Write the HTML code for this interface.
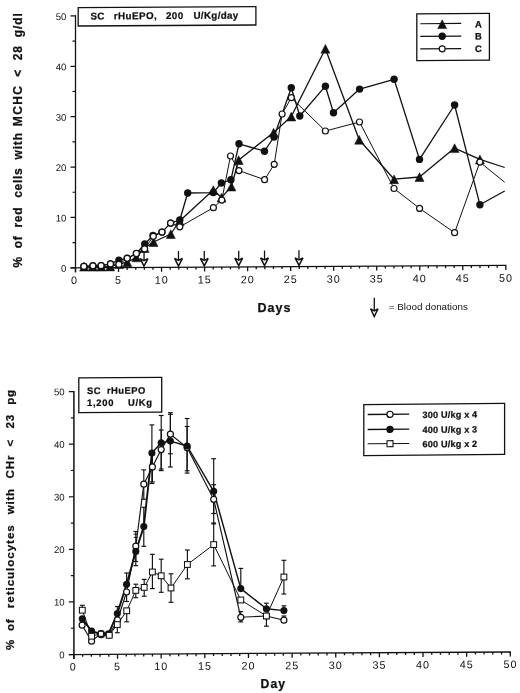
<!DOCTYPE html>
<html><head><meta charset="utf-8"><title>Figure</title>
<style>
html,body{margin:0;padding:0;background:#fff;}
body{width:520px;height:693px;overflow:hidden;}
svg{display:block;will-change:transform;opacity:0.999;}
text{font-family:"Liberation Sans", sans-serif;fill:#111;}
.b{font-weight:bold;stroke:#111;stroke-width:0.25px;}
</style></head><body>
<svg width="520" height="693" viewBox="0 0 520 693">
<rect x="0" y="0" width="520" height="693" fill="#fff"/>
<g transform="translate(0,0.421) skewY(-0.3196)">
<line x1="75.50" y1="15.30" x2="75.50" y2="272.30" stroke="#111" stroke-width="1.30" />
<line x1="70.50" y1="267.80" x2="506.40" y2="267.80" stroke="#111" stroke-width="1.30" />
<line x1="70.50" y1="267.80" x2="75.50" y2="267.80" stroke="#111" stroke-width="1.20" />
<text x="66.40" y="271.70" font-size="9.60"  text-anchor="end"  >0</text>
<line x1="72.50" y1="242.61" x2="75.50" y2="242.61" stroke="#111" stroke-width="1.20" />
<line x1="70.50" y1="217.42" x2="75.50" y2="217.42" stroke="#111" stroke-width="1.20" />
<text x="66.40" y="221.32" font-size="9.60"  text-anchor="end"  >10</text>
<line x1="72.50" y1="192.23" x2="75.50" y2="192.23" stroke="#111" stroke-width="1.20" />
<line x1="70.50" y1="167.04" x2="75.50" y2="167.04" stroke="#111" stroke-width="1.20" />
<text x="66.40" y="170.94" font-size="9.60"  text-anchor="end"  >20</text>
<line x1="72.50" y1="141.85" x2="75.50" y2="141.85" stroke="#111" stroke-width="1.20" />
<line x1="70.50" y1="116.66" x2="75.50" y2="116.66" stroke="#111" stroke-width="1.20" />
<text x="66.40" y="120.56" font-size="9.60"  text-anchor="end"  >30</text>
<line x1="72.50" y1="91.47" x2="75.50" y2="91.47" stroke="#111" stroke-width="1.20" />
<line x1="70.50" y1="66.28" x2="75.50" y2="66.28" stroke="#111" stroke-width="1.20" />
<text x="66.40" y="70.18" font-size="9.60"  text-anchor="end"  >40</text>
<line x1="72.50" y1="41.09" x2="75.50" y2="41.09" stroke="#111" stroke-width="1.20" />
<line x1="70.50" y1="15.90" x2="75.50" y2="15.90" stroke="#111" stroke-width="1.20" />
<text x="66.40" y="19.80" font-size="9.60"  text-anchor="end"  >50</text>
<line x1="75.50" y1="267.80" x2="75.50" y2="272.30" stroke="#111" stroke-width="1.30" />
<text x="74.50" y="284.10" font-size="10.80"  text-anchor="middle" letter-spacing="1.00" >0</text>
<line x1="84.11" y1="267.80" x2="84.11" y2="270.20" stroke="#111" stroke-width="1.30" />
<line x1="92.71" y1="267.80" x2="92.71" y2="270.20" stroke="#111" stroke-width="1.30" />
<line x1="101.32" y1="267.80" x2="101.32" y2="270.20" stroke="#111" stroke-width="1.30" />
<line x1="109.92" y1="267.80" x2="109.92" y2="270.20" stroke="#111" stroke-width="1.30" />
<line x1="118.53" y1="267.80" x2="118.53" y2="272.30" stroke="#111" stroke-width="1.30" />
<text x="118.63" y="284.10" font-size="10.80"  text-anchor="middle" letter-spacing="1.00" >5</text>
<line x1="127.14" y1="267.80" x2="127.14" y2="270.20" stroke="#111" stroke-width="1.30" />
<line x1="135.74" y1="267.80" x2="135.74" y2="270.20" stroke="#111" stroke-width="1.30" />
<line x1="144.35" y1="267.80" x2="144.35" y2="270.20" stroke="#111" stroke-width="1.30" />
<line x1="152.95" y1="267.80" x2="152.95" y2="270.20" stroke="#111" stroke-width="1.30" />
<line x1="161.56" y1="267.80" x2="161.56" y2="272.30" stroke="#111" stroke-width="1.30" />
<text x="161.66" y="284.10" font-size="10.80"  text-anchor="middle" letter-spacing="1.00" >10</text>
<line x1="170.17" y1="267.80" x2="170.17" y2="270.20" stroke="#111" stroke-width="1.30" />
<line x1="178.77" y1="267.80" x2="178.77" y2="270.20" stroke="#111" stroke-width="1.30" />
<line x1="187.38" y1="267.80" x2="187.38" y2="270.20" stroke="#111" stroke-width="1.30" />
<line x1="195.98" y1="267.80" x2="195.98" y2="270.20" stroke="#111" stroke-width="1.30" />
<line x1="204.59" y1="267.80" x2="204.59" y2="272.30" stroke="#111" stroke-width="1.30" />
<text x="204.69" y="284.10" font-size="10.80"  text-anchor="middle" letter-spacing="1.00" >15</text>
<line x1="213.20" y1="267.80" x2="213.20" y2="270.20" stroke="#111" stroke-width="1.30" />
<line x1="221.80" y1="267.80" x2="221.80" y2="270.20" stroke="#111" stroke-width="1.30" />
<line x1="230.41" y1="267.80" x2="230.41" y2="270.20" stroke="#111" stroke-width="1.30" />
<line x1="239.01" y1="267.80" x2="239.01" y2="270.20" stroke="#111" stroke-width="1.30" />
<line x1="247.62" y1="267.80" x2="247.62" y2="272.30" stroke="#111" stroke-width="1.30" />
<text x="247.72" y="284.10" font-size="10.80"  text-anchor="middle" letter-spacing="1.00" >20</text>
<line x1="256.23" y1="267.80" x2="256.23" y2="270.20" stroke="#111" stroke-width="1.30" />
<line x1="264.83" y1="267.80" x2="264.83" y2="270.20" stroke="#111" stroke-width="1.30" />
<line x1="273.44" y1="267.80" x2="273.44" y2="270.20" stroke="#111" stroke-width="1.30" />
<line x1="282.04" y1="267.80" x2="282.04" y2="270.20" stroke="#111" stroke-width="1.30" />
<line x1="290.65" y1="267.80" x2="290.65" y2="272.30" stroke="#111" stroke-width="1.30" />
<text x="290.75" y="284.10" font-size="10.80"  text-anchor="middle" letter-spacing="1.00" >25</text>
<line x1="299.26" y1="267.80" x2="299.26" y2="270.20" stroke="#111" stroke-width="1.30" />
<line x1="307.86" y1="267.80" x2="307.86" y2="270.20" stroke="#111" stroke-width="1.30" />
<line x1="316.47" y1="267.80" x2="316.47" y2="270.20" stroke="#111" stroke-width="1.30" />
<line x1="325.07" y1="267.80" x2="325.07" y2="270.20" stroke="#111" stroke-width="1.30" />
<line x1="333.68" y1="267.80" x2="333.68" y2="272.30" stroke="#111" stroke-width="1.30" />
<text x="333.78" y="284.10" font-size="10.80"  text-anchor="middle" letter-spacing="1.00" >30</text>
<line x1="342.29" y1="267.80" x2="342.29" y2="270.20" stroke="#111" stroke-width="1.30" />
<line x1="350.89" y1="267.80" x2="350.89" y2="270.20" stroke="#111" stroke-width="1.30" />
<line x1="359.50" y1="267.80" x2="359.50" y2="270.20" stroke="#111" stroke-width="1.30" />
<line x1="368.10" y1="267.80" x2="368.10" y2="270.20" stroke="#111" stroke-width="1.30" />
<line x1="376.71" y1="267.80" x2="376.71" y2="272.30" stroke="#111" stroke-width="1.30" />
<text x="376.81" y="284.10" font-size="10.80"  text-anchor="middle" letter-spacing="1.00" >35</text>
<line x1="385.32" y1="267.80" x2="385.32" y2="270.20" stroke="#111" stroke-width="1.30" />
<line x1="393.92" y1="267.80" x2="393.92" y2="270.20" stroke="#111" stroke-width="1.30" />
<line x1="402.53" y1="267.80" x2="402.53" y2="270.20" stroke="#111" stroke-width="1.30" />
<line x1="411.13" y1="267.80" x2="411.13" y2="270.20" stroke="#111" stroke-width="1.30" />
<line x1="419.74" y1="267.80" x2="419.74" y2="272.30" stroke="#111" stroke-width="1.30" />
<text x="419.84" y="284.10" font-size="10.80"  text-anchor="middle" letter-spacing="1.00" >40</text>
<line x1="428.35" y1="267.80" x2="428.35" y2="270.20" stroke="#111" stroke-width="1.30" />
<line x1="436.95" y1="267.80" x2="436.95" y2="270.20" stroke="#111" stroke-width="1.30" />
<line x1="445.56" y1="267.80" x2="445.56" y2="270.20" stroke="#111" stroke-width="1.30" />
<line x1="454.16" y1="267.80" x2="454.16" y2="270.20" stroke="#111" stroke-width="1.30" />
<line x1="462.77" y1="267.80" x2="462.77" y2="272.30" stroke="#111" stroke-width="1.30" />
<text x="462.87" y="284.10" font-size="10.80"  text-anchor="middle" letter-spacing="1.00" >45</text>
<line x1="471.38" y1="267.80" x2="471.38" y2="270.20" stroke="#111" stroke-width="1.30" />
<line x1="479.98" y1="267.80" x2="479.98" y2="270.20" stroke="#111" stroke-width="1.30" />
<line x1="488.59" y1="267.80" x2="488.59" y2="270.20" stroke="#111" stroke-width="1.30" />
<line x1="497.19" y1="267.80" x2="497.19" y2="270.20" stroke="#111" stroke-width="1.30" />
<line x1="505.80" y1="267.80" x2="505.80" y2="272.30" stroke="#111" stroke-width="1.30" />
<text x="505.90" y="284.10" font-size="10.80"  text-anchor="middle" letter-spacing="1.00" >50</text>
</g>
<line x1="144.05" y1="251.22" x2="144.05" y2="261.62" stroke="#111" stroke-width="1.30" />
<polygon points="140.1,258.6 144.0,260.6 147.9,258.6 144.0,266.2" fill="#fff" stroke="#111" stroke-width="1.50" stroke-linejoin="miter" stroke-miterlimit="3"/>
<line x1="178.47" y1="251.03" x2="178.47" y2="261.43" stroke="#111" stroke-width="1.30" />
<polygon points="174.6,258.4 178.5,260.4 182.4,258.4 178.5,266.0" fill="#fff" stroke="#111" stroke-width="1.50" stroke-linejoin="miter" stroke-miterlimit="3"/>
<line x1="204.29" y1="250.88" x2="204.29" y2="261.28" stroke="#111" stroke-width="1.30" />
<polygon points="200.4,258.3 204.3,260.3 208.2,258.3 204.3,265.9" fill="#fff" stroke="#111" stroke-width="1.50" stroke-linejoin="miter" stroke-miterlimit="3"/>
<line x1="238.71" y1="250.69" x2="238.71" y2="261.09" stroke="#111" stroke-width="1.30" />
<polygon points="234.8,258.1 238.7,260.1 242.6,258.1 238.7,265.7" fill="#fff" stroke="#111" stroke-width="1.50" stroke-linejoin="miter" stroke-miterlimit="3"/>
<line x1="264.53" y1="250.55" x2="264.53" y2="260.95" stroke="#111" stroke-width="1.30" />
<polygon points="260.6,257.9 264.5,259.9 268.4,257.9 264.5,265.5" fill="#fff" stroke="#111" stroke-width="1.50" stroke-linejoin="miter" stroke-miterlimit="3"/>
<line x1="298.96" y1="250.35" x2="298.96" y2="260.75" stroke="#111" stroke-width="1.30" />
<polygon points="295.1,257.8 299.0,259.8 302.9,257.8 299.0,265.4" fill="#fff" stroke="#111" stroke-width="1.50" stroke-linejoin="miter" stroke-miterlimit="3"/>
<polyline fill="none" stroke="#111" stroke-width="1.30" stroke-linejoin="round" points="84.1,266.6 92.7,266.6 101.3,266.6 110.2,266.4 119.0,264.0 127.3,262.2 136.3,257.3 144.6,248.0 153.5,242.0 170.8,234.0 179.6,221.0 213.3,190.0 221.5,197.6 231.4,186.5 238.7,160.0 273.6,132.5 291.3,116.5 325.4,48.7 359.2,139.7 394.1,179.2 419.5,177.0 454.6,148.1 479.9,159.4 504.7,167.5"/>
<polyline fill="none" stroke="#111" stroke-width="1.30" stroke-linejoin="round" points="83.9,266.4 92.9,265.8 101.1,265.7 110.5,263.9 118.9,260.1 127.2,258.3 136.4,253.5 144.7,244.0 153.0,235.5 162.0,232.1 170.6,223.1 179.8,220.0 187.7,193.0 213.3,192.6 221.4,183.0 230.9,179.8 239.0,143.8 264.5,151.2 274.0,137.0 291.3,87.7 299.8,116.0 325.4,86.2 333.5,112.7 359.6,89.1 394.1,79.3 419.5,159.4 454.6,105.0 479.9,204.7 504.7,191.0"/>
<polyline fill="none" stroke="#111" stroke-width="1.00" stroke-linejoin="round" points="83.9,266.4 92.9,265.8 101.1,265.7 110.5,263.9 118.9,264.4 127.2,258.3 136.4,253.5 144.6,248.9 153.3,236.3 162.0,232.1 170.6,223.1 179.8,226.8 213.4,207.7 221.8,200.1 230.5,156.0 239.0,170.6 264.6,179.7 274.2,164.3 282.1,114.0 291.3,97.7 325.4,131.0 359.5,122.0 394.0,188.5 419.6,208.4 454.6,232.7 479.9,162.1 504.7,182.3"/>
<polygon points="84.1,262.3 79.6,271.1 88.6,271.1" fill="#111" stroke="#111" stroke-width="0.5" stroke-linejoin="round"/>
<polygon points="92.7,262.3 88.2,271.1 97.2,271.1" fill="#111" stroke="#111" stroke-width="0.5" stroke-linejoin="round"/>
<polygon points="101.3,262.3 96.8,271.1 105.8,271.1" fill="#111" stroke="#111" stroke-width="0.5" stroke-linejoin="round"/>
<polygon points="110.2,262.1 105.7,270.9 114.7,270.9" fill="#111" stroke="#111" stroke-width="0.5" stroke-linejoin="round"/>
<polygon points="119.0,259.7 114.5,268.5 123.5,268.5" fill="#111" stroke="#111" stroke-width="0.5" stroke-linejoin="round"/>
<polygon points="127.3,257.9 122.8,266.7 131.8,266.7" fill="#111" stroke="#111" stroke-width="0.5" stroke-linejoin="round"/>
<polygon points="136.3,253.0 131.8,261.8 140.8,261.8" fill="#111" stroke="#111" stroke-width="0.5" stroke-linejoin="round"/>
<polygon points="144.6,243.7 140.1,252.5 149.1,252.5" fill="#111" stroke="#111" stroke-width="0.5" stroke-linejoin="round"/>
<polygon points="153.5,237.7 149.0,246.5 158.0,246.5" fill="#111" stroke="#111" stroke-width="0.5" stroke-linejoin="round"/>
<polygon points="170.8,229.7 166.3,238.5 175.3,238.5" fill="#111" stroke="#111" stroke-width="0.5" stroke-linejoin="round"/>
<polygon points="179.6,216.7 175.1,225.5 184.1,225.5" fill="#111" stroke="#111" stroke-width="0.5" stroke-linejoin="round"/>
<polygon points="213.3,185.7 208.8,194.5 217.8,194.5" fill="#111" stroke="#111" stroke-width="0.5" stroke-linejoin="round"/>
<polygon points="221.5,193.3 217.0,202.1 226.0,202.1" fill="#111" stroke="#111" stroke-width="0.5" stroke-linejoin="round"/>
<polygon points="231.4,182.2 226.9,191.0 235.9,191.0" fill="#111" stroke="#111" stroke-width="0.5" stroke-linejoin="round"/>
<polygon points="238.7,155.7 234.2,164.5 243.2,164.5" fill="#111" stroke="#111" stroke-width="0.5" stroke-linejoin="round"/>
<polygon points="273.6,128.2 269.1,137.0 278.1,137.0" fill="#111" stroke="#111" stroke-width="0.5" stroke-linejoin="round"/>
<polygon points="291.3,112.2 286.8,121.0 295.8,121.0" fill="#111" stroke="#111" stroke-width="0.5" stroke-linejoin="round"/>
<polygon points="325.4,44.4 320.9,53.2 329.9,53.2" fill="#111" stroke="#111" stroke-width="0.5" stroke-linejoin="round"/>
<polygon points="359.2,135.4 354.7,144.2 363.7,144.2" fill="#111" stroke="#111" stroke-width="0.5" stroke-linejoin="round"/>
<polygon points="394.1,174.9 389.6,183.7 398.6,183.7" fill="#111" stroke="#111" stroke-width="0.5" stroke-linejoin="round"/>
<polygon points="419.5,172.7 415.0,181.5 424.0,181.5" fill="#111" stroke="#111" stroke-width="0.5" stroke-linejoin="round"/>
<polygon points="454.6,143.8 450.1,152.6 459.1,152.6" fill="#111" stroke="#111" stroke-width="0.5" stroke-linejoin="round"/>
<polygon points="479.9,155.1 475.4,163.9 484.4,163.9" fill="#111" stroke="#111" stroke-width="0.5" stroke-linejoin="round"/>
<circle cx="83.9" cy="266.4" r="3.70" fill="#111"/>
<circle cx="92.9" cy="265.8" r="3.70" fill="#111"/>
<circle cx="101.1" cy="265.7" r="3.70" fill="#111"/>
<circle cx="110.5" cy="263.9" r="3.70" fill="#111"/>
<circle cx="118.9" cy="260.1" r="3.70" fill="#111"/>
<circle cx="127.2" cy="258.3" r="3.70" fill="#111"/>
<circle cx="136.4" cy="253.5" r="3.70" fill="#111"/>
<circle cx="144.7" cy="244.0" r="3.70" fill="#111"/>
<circle cx="153.0" cy="235.5" r="3.70" fill="#111"/>
<circle cx="162.0" cy="232.1" r="3.70" fill="#111"/>
<circle cx="170.6" cy="223.1" r="3.70" fill="#111"/>
<circle cx="179.8" cy="220.0" r="3.70" fill="#111"/>
<circle cx="187.7" cy="193.0" r="3.70" fill="#111"/>
<circle cx="213.3" cy="192.6" r="3.70" fill="#111"/>
<circle cx="221.4" cy="183.0" r="3.70" fill="#111"/>
<circle cx="230.9" cy="179.8" r="3.70" fill="#111"/>
<circle cx="239.0" cy="143.8" r="3.70" fill="#111"/>
<circle cx="264.5" cy="151.2" r="3.70" fill="#111"/>
<circle cx="274.0" cy="137.0" r="3.70" fill="#111"/>
<circle cx="291.3" cy="87.7" r="3.70" fill="#111"/>
<circle cx="299.8" cy="116.0" r="3.70" fill="#111"/>
<circle cx="325.4" cy="86.2" r="3.70" fill="#111"/>
<circle cx="333.5" cy="112.7" r="3.70" fill="#111"/>
<circle cx="359.6" cy="89.1" r="3.70" fill="#111"/>
<circle cx="394.1" cy="79.3" r="3.70" fill="#111"/>
<circle cx="419.5" cy="159.4" r="3.70" fill="#111"/>
<circle cx="454.6" cy="105.0" r="3.70" fill="#111"/>
<circle cx="479.9" cy="204.7" r="3.70" fill="#111"/>
<circle cx="83.9" cy="266.4" r="3.00" fill="#fff" stroke="#111" stroke-width="1.20"/>
<circle cx="92.9" cy="265.8" r="3.00" fill="#fff" stroke="#111" stroke-width="1.20"/>
<circle cx="101.1" cy="265.7" r="3.00" fill="#fff" stroke="#111" stroke-width="1.20"/>
<circle cx="110.5" cy="263.9" r="3.00" fill="#fff" stroke="#111" stroke-width="1.20"/>
<circle cx="118.9" cy="264.4" r="3.00" fill="#fff" stroke="#111" stroke-width="1.20"/>
<circle cx="127.2" cy="258.3" r="3.00" fill="#fff" stroke="#111" stroke-width="1.20"/>
<circle cx="136.4" cy="253.5" r="3.00" fill="#fff" stroke="#111" stroke-width="1.20"/>
<circle cx="144.6" cy="248.9" r="3.00" fill="#fff" stroke="#111" stroke-width="1.20"/>
<circle cx="153.3" cy="236.3" r="3.00" fill="#fff" stroke="#111" stroke-width="1.20"/>
<circle cx="162.0" cy="232.1" r="3.00" fill="#fff" stroke="#111" stroke-width="1.20"/>
<circle cx="170.6" cy="223.1" r="3.00" fill="#fff" stroke="#111" stroke-width="1.20"/>
<circle cx="179.8" cy="226.8" r="3.00" fill="#fff" stroke="#111" stroke-width="1.20"/>
<circle cx="213.4" cy="207.7" r="3.00" fill="#fff" stroke="#111" stroke-width="1.20"/>
<circle cx="221.8" cy="200.1" r="3.00" fill="#fff" stroke="#111" stroke-width="1.20"/>
<circle cx="230.5" cy="156.0" r="3.00" fill="#fff" stroke="#111" stroke-width="1.20"/>
<circle cx="239.0" cy="170.6" r="3.00" fill="#fff" stroke="#111" stroke-width="1.20"/>
<circle cx="264.6" cy="179.7" r="3.00" fill="#fff" stroke="#111" stroke-width="1.20"/>
<circle cx="274.2" cy="164.3" r="3.00" fill="#fff" stroke="#111" stroke-width="1.20"/>
<circle cx="282.1" cy="114.0" r="3.00" fill="#fff" stroke="#111" stroke-width="1.20"/>
<circle cx="291.3" cy="97.7" r="3.00" fill="#fff" stroke="#111" stroke-width="1.20"/>
<circle cx="325.4" cy="131.0" r="3.00" fill="#fff" stroke="#111" stroke-width="1.20"/>
<circle cx="359.5" cy="122.0" r="3.00" fill="#fff" stroke="#111" stroke-width="1.20"/>
<circle cx="394.0" cy="188.5" r="3.00" fill="#fff" stroke="#111" stroke-width="1.20"/>
<circle cx="419.6" cy="208.4" r="3.00" fill="#fff" stroke="#111" stroke-width="1.20"/>
<circle cx="454.6" cy="232.7" r="3.00" fill="#fff" stroke="#111" stroke-width="1.20"/>
<circle cx="479.9" cy="162.1" r="3.00" fill="#fff" stroke="#111" stroke-width="1.20"/>
<g transform="translate(0,0.93) skewY(-0.32)">
<rect x="78.2" y="7.2" width="177.7" height="18.3" fill="#fff" stroke="#111" stroke-width="1.3"/>
<text x="90.40" y="19.00" font-size="9.80" class="b" text-anchor="start" letter-spacing="0.40" >SC</text>
<text x="113.80" y="19.00" font-size="9.80" class="b" text-anchor="start" letter-spacing="0.45" >rHuEPO,</text>
<text x="166.00" y="19.00" font-size="9.80" class="b" text-anchor="start" letter-spacing="0.40" >200</text>
<text x="193.40" y="19.00" font-size="9.80" class="b" text-anchor="start" letter-spacing="0.35" >U/Kg/day</text>
</g>
<g transform="translate(0,3.56) skewY(-0.45)">
<rect x="416.8" y="13.6" width="72.6" height="46.8" fill="#fff" stroke="#111" stroke-width="1.3"/>
<line x1="420.30" y1="23.50" x2="461.20" y2="23.50" stroke="#111" stroke-width="1.20" />
<text x="474.90" y="27.60" font-size="9.40" class="b" text-anchor="start"  >A</text>
<line x1="420.30" y1="36.20" x2="461.20" y2="36.20" stroke="#111" stroke-width="1.20" />
<text x="474.90" y="39.70" font-size="9.40" class="b" text-anchor="start"  >B</text>
<line x1="420.30" y1="48.70" x2="461.20" y2="48.70" stroke="#111" stroke-width="1.20" />
<text x="474.90" y="52.20" font-size="9.40" class="b" text-anchor="start"  >C</text>
<polygon points="442.2,19.7 437.7,28.5 446.7,28.5" fill="#111" stroke="#111" stroke-width="0.5" stroke-linejoin="round"/>
<circle cx="442.2" cy="36.2" r="3.70" fill="#111"/>
<circle cx="442.2" cy="48.7" r="3.00" fill="#fff" stroke="#111" stroke-width="1.20"/>
</g>
<text x="257.60" y="311.50" font-size="12.50" class="b" text-anchor="start" letter-spacing="1.00" >Days</text>
<line x1="374.30" y1="297.70" x2="374.30" y2="311.80" stroke="#111" stroke-width="1.30" />
<polygon points="370.6,308.8 374.3,310.8 378.0,308.8 374.3,316.6" fill="#fff" stroke="#111" stroke-width="1.50" stroke-linejoin="miter" stroke-miterlimit="3"/>
<text x="388.80" y="310.00" font-size="9.85"  text-anchor="start"  >= Blood donations</text>
<text transform="translate(22.20,267.60) rotate(-90)" font-size="12.00" class="b" >%</text>
<text transform="translate(22.20,248.30) rotate(-90)" font-size="12.00" class="b" letter-spacing="0.70">of</text>
<text transform="translate(22.20,227.60) rotate(-90)" font-size="12.00" class="b" letter-spacing="0.80">red</text>
<text transform="translate(22.20,197.80) rotate(-90)" font-size="12.00" class="b" letter-spacing="0.70">cells</text>
<text transform="translate(22.20,159.40) rotate(-90)" font-size="12.00" class="b" letter-spacing="0.80">with</text>
<text transform="translate(22.20,126.20) rotate(-90)" font-size="12.00" class="b" letter-spacing="1.35">MCHC</text>
<text transform="translate(22.20,76.80) rotate(-90)" font-size="12.00" class="b" >&lt;</text>
<text transform="translate(22.20,60.30) rotate(-90)" font-size="12.00" class="b" letter-spacing="0.90">28</text>
<text transform="translate(22.20,37.20) rotate(-90)" font-size="12.00" class="b" letter-spacing="0.90">g/dl</text>
<g transform="translate(0,0.423) skewY(-0.3282)">
<line x1="73.90" y1="391.00" x2="73.90" y2="659.00" stroke="#111" stroke-width="1.50" />
<line x1="68.90" y1="654.50" x2="510.90" y2="654.50" stroke="#111" stroke-width="1.30" />
<line x1="68.90" y1="654.50" x2="73.90" y2="654.50" stroke="#111" stroke-width="1.20" />
<text x="64.60" y="658.10" font-size="9.60"  text-anchor="end"  >0</text>
<line x1="70.90" y1="628.21" x2="73.90" y2="628.21" stroke="#111" stroke-width="1.20" />
<line x1="68.90" y1="601.92" x2="73.90" y2="601.92" stroke="#111" stroke-width="1.20" />
<text x="64.60" y="605.52" font-size="9.60"  text-anchor="end"  >10</text>
<line x1="70.90" y1="575.63" x2="73.90" y2="575.63" stroke="#111" stroke-width="1.20" />
<line x1="68.90" y1="549.34" x2="73.90" y2="549.34" stroke="#111" stroke-width="1.20" />
<text x="64.60" y="552.94" font-size="9.60"  text-anchor="end"  >20</text>
<line x1="70.90" y1="523.05" x2="73.90" y2="523.05" stroke="#111" stroke-width="1.20" />
<line x1="68.90" y1="496.76" x2="73.90" y2="496.76" stroke="#111" stroke-width="1.20" />
<text x="64.60" y="500.36" font-size="9.60"  text-anchor="end"  >30</text>
<line x1="70.90" y1="470.47" x2="73.90" y2="470.47" stroke="#111" stroke-width="1.20" />
<line x1="68.90" y1="444.18" x2="73.90" y2="444.18" stroke="#111" stroke-width="1.20" />
<text x="64.60" y="447.78" font-size="9.60"  text-anchor="end"  >40</text>
<line x1="70.90" y1="417.89" x2="73.90" y2="417.89" stroke="#111" stroke-width="1.20" />
<line x1="68.90" y1="391.60" x2="73.90" y2="391.60" stroke="#111" stroke-width="1.20" />
<text x="64.60" y="395.20" font-size="9.60"  text-anchor="end"  >50</text>
<line x1="73.90" y1="654.50" x2="73.90" y2="659.00" stroke="#111" stroke-width="1.30" />
<text x="73.20" y="670.50" font-size="10.80"  text-anchor="middle" letter-spacing="1.00" >0</text>
<line x1="82.63" y1="654.50" x2="82.63" y2="656.90" stroke="#111" stroke-width="1.30" />
<line x1="91.36" y1="654.50" x2="91.36" y2="656.90" stroke="#111" stroke-width="1.30" />
<line x1="100.08" y1="654.50" x2="100.08" y2="656.90" stroke="#111" stroke-width="1.30" />
<line x1="108.81" y1="654.50" x2="108.81" y2="656.90" stroke="#111" stroke-width="1.30" />
<line x1="117.54" y1="654.50" x2="117.54" y2="659.00" stroke="#111" stroke-width="1.30" />
<text x="117.64" y="670.50" font-size="10.80"  text-anchor="middle" letter-spacing="1.00" >5</text>
<line x1="126.27" y1="654.50" x2="126.27" y2="656.90" stroke="#111" stroke-width="1.30" />
<line x1="135.00" y1="654.50" x2="135.00" y2="656.90" stroke="#111" stroke-width="1.30" />
<line x1="143.72" y1="654.50" x2="143.72" y2="656.90" stroke="#111" stroke-width="1.30" />
<line x1="152.45" y1="654.50" x2="152.45" y2="656.90" stroke="#111" stroke-width="1.30" />
<line x1="161.18" y1="654.50" x2="161.18" y2="659.00" stroke="#111" stroke-width="1.30" />
<text x="161.28" y="670.50" font-size="10.80"  text-anchor="middle" letter-spacing="1.00" >10</text>
<line x1="169.91" y1="654.50" x2="169.91" y2="656.90" stroke="#111" stroke-width="1.30" />
<line x1="178.64" y1="654.50" x2="178.64" y2="656.90" stroke="#111" stroke-width="1.30" />
<line x1="187.36" y1="654.50" x2="187.36" y2="656.90" stroke="#111" stroke-width="1.30" />
<line x1="196.09" y1="654.50" x2="196.09" y2="656.90" stroke="#111" stroke-width="1.30" />
<line x1="204.82" y1="654.50" x2="204.82" y2="659.00" stroke="#111" stroke-width="1.30" />
<text x="204.92" y="670.50" font-size="10.80"  text-anchor="middle" letter-spacing="1.00" >15</text>
<line x1="213.55" y1="654.50" x2="213.55" y2="656.90" stroke="#111" stroke-width="1.30" />
<line x1="222.28" y1="654.50" x2="222.28" y2="656.90" stroke="#111" stroke-width="1.30" />
<line x1="231.00" y1="654.50" x2="231.00" y2="656.90" stroke="#111" stroke-width="1.30" />
<line x1="239.73" y1="654.50" x2="239.73" y2="656.90" stroke="#111" stroke-width="1.30" />
<line x1="248.46" y1="654.50" x2="248.46" y2="659.00" stroke="#111" stroke-width="1.30" />
<text x="248.56" y="670.50" font-size="10.80"  text-anchor="middle" letter-spacing="1.00" >20</text>
<line x1="257.19" y1="654.50" x2="257.19" y2="656.90" stroke="#111" stroke-width="1.30" />
<line x1="265.92" y1="654.50" x2="265.92" y2="656.90" stroke="#111" stroke-width="1.30" />
<line x1="274.64" y1="654.50" x2="274.64" y2="656.90" stroke="#111" stroke-width="1.30" />
<line x1="283.37" y1="654.50" x2="283.37" y2="656.90" stroke="#111" stroke-width="1.30" />
<line x1="292.10" y1="654.50" x2="292.10" y2="659.00" stroke="#111" stroke-width="1.30" />
<text x="292.20" y="670.50" font-size="10.80"  text-anchor="middle" letter-spacing="1.00" >25</text>
<line x1="300.83" y1="654.50" x2="300.83" y2="656.90" stroke="#111" stroke-width="1.30" />
<line x1="309.56" y1="654.50" x2="309.56" y2="656.90" stroke="#111" stroke-width="1.30" />
<line x1="318.28" y1="654.50" x2="318.28" y2="656.90" stroke="#111" stroke-width="1.30" />
<line x1="327.01" y1="654.50" x2="327.01" y2="656.90" stroke="#111" stroke-width="1.30" />
<line x1="335.74" y1="654.50" x2="335.74" y2="659.00" stroke="#111" stroke-width="1.30" />
<text x="335.84" y="670.50" font-size="10.80"  text-anchor="middle" letter-spacing="1.00" >30</text>
<line x1="344.47" y1="654.50" x2="344.47" y2="656.90" stroke="#111" stroke-width="1.30" />
<line x1="353.20" y1="654.50" x2="353.20" y2="656.90" stroke="#111" stroke-width="1.30" />
<line x1="361.92" y1="654.50" x2="361.92" y2="656.90" stroke="#111" stroke-width="1.30" />
<line x1="370.65" y1="654.50" x2="370.65" y2="656.90" stroke="#111" stroke-width="1.30" />
<line x1="379.38" y1="654.50" x2="379.38" y2="659.00" stroke="#111" stroke-width="1.30" />
<text x="379.48" y="670.50" font-size="10.80"  text-anchor="middle" letter-spacing="1.00" >35</text>
<line x1="388.11" y1="654.50" x2="388.11" y2="656.90" stroke="#111" stroke-width="1.30" />
<line x1="396.84" y1="654.50" x2="396.84" y2="656.90" stroke="#111" stroke-width="1.30" />
<line x1="405.56" y1="654.50" x2="405.56" y2="656.90" stroke="#111" stroke-width="1.30" />
<line x1="414.29" y1="654.50" x2="414.29" y2="656.90" stroke="#111" stroke-width="1.30" />
<line x1="423.02" y1="654.50" x2="423.02" y2="659.00" stroke="#111" stroke-width="1.30" />
<text x="423.12" y="670.50" font-size="10.80"  text-anchor="middle" letter-spacing="1.00" >40</text>
<line x1="431.75" y1="654.50" x2="431.75" y2="656.90" stroke="#111" stroke-width="1.30" />
<line x1="440.48" y1="654.50" x2="440.48" y2="656.90" stroke="#111" stroke-width="1.30" />
<line x1="449.20" y1="654.50" x2="449.20" y2="656.90" stroke="#111" stroke-width="1.30" />
<line x1="457.93" y1="654.50" x2="457.93" y2="656.90" stroke="#111" stroke-width="1.30" />
<line x1="466.66" y1="654.50" x2="466.66" y2="659.00" stroke="#111" stroke-width="1.30" />
<text x="466.76" y="670.50" font-size="10.80"  text-anchor="middle" letter-spacing="1.00" >45</text>
<line x1="475.39" y1="654.50" x2="475.39" y2="656.90" stroke="#111" stroke-width="1.30" />
<line x1="484.12" y1="654.50" x2="484.12" y2="656.90" stroke="#111" stroke-width="1.30" />
<line x1="492.84" y1="654.50" x2="492.84" y2="656.90" stroke="#111" stroke-width="1.30" />
<line x1="501.57" y1="654.50" x2="501.57" y2="656.90" stroke="#111" stroke-width="1.30" />
<line x1="510.30" y1="654.50" x2="510.30" y2="659.00" stroke="#111" stroke-width="1.30" />
<text x="510.40" y="670.50" font-size="10.80"  text-anchor="middle" letter-spacing="1.00" >50</text>
</g>
<line x1="82.30" y1="605.30" x2="82.30" y2="610.20" stroke="#111" stroke-width="1.15" />
<line x1="79.90" y1="605.30" x2="84.70" y2="605.30" stroke="#111" stroke-width="1.15" />
<line x1="117.30" y1="624.60" x2="117.30" y2="632.70" stroke="#111" stroke-width="1.15" />
<line x1="114.90" y1="632.70" x2="119.70" y2="632.70" stroke="#111" stroke-width="1.15" />
<line x1="126.70" y1="610.80" x2="126.70" y2="621.80" stroke="#111" stroke-width="1.15" />
<line x1="124.30" y1="621.80" x2="129.10" y2="621.80" stroke="#111" stroke-width="1.15" />
<line x1="135.80" y1="584.20" x2="135.80" y2="597.70" stroke="#111" stroke-width="1.15" />
<line x1="133.40" y1="584.20" x2="138.20" y2="584.20" stroke="#111" stroke-width="1.15" />
<line x1="133.40" y1="597.70" x2="138.20" y2="597.70" stroke="#111" stroke-width="1.15" />
<line x1="144.20" y1="579.40" x2="144.20" y2="596.20" stroke="#111" stroke-width="1.15" />
<line x1="141.80" y1="579.40" x2="146.60" y2="579.40" stroke="#111" stroke-width="1.15" />
<line x1="141.80" y1="596.20" x2="146.60" y2="596.20" stroke="#111" stroke-width="1.15" />
<line x1="152.40" y1="554.30" x2="152.40" y2="588.60" stroke="#111" stroke-width="1.15" />
<line x1="150.00" y1="554.30" x2="154.80" y2="554.30" stroke="#111" stroke-width="1.15" />
<line x1="150.00" y1="588.60" x2="154.80" y2="588.60" stroke="#111" stroke-width="1.15" />
<line x1="161.20" y1="559.20" x2="161.20" y2="592.30" stroke="#111" stroke-width="1.15" />
<line x1="158.80" y1="559.20" x2="163.60" y2="559.20" stroke="#111" stroke-width="1.15" />
<line x1="158.80" y1="592.30" x2="163.60" y2="592.30" stroke="#111" stroke-width="1.15" />
<line x1="171.00" y1="573.80" x2="171.00" y2="602.30" stroke="#111" stroke-width="1.15" />
<line x1="168.60" y1="573.80" x2="173.40" y2="573.80" stroke="#111" stroke-width="1.15" />
<line x1="168.60" y1="602.30" x2="173.40" y2="602.30" stroke="#111" stroke-width="1.15" />
<line x1="187.40" y1="550.00" x2="187.40" y2="578.80" stroke="#111" stroke-width="1.15" />
<line x1="185.00" y1="550.00" x2="189.80" y2="550.00" stroke="#111" stroke-width="1.15" />
<line x1="185.00" y1="578.80" x2="189.80" y2="578.80" stroke="#111" stroke-width="1.15" />
<line x1="213.70" y1="523.00" x2="213.70" y2="565.90" stroke="#111" stroke-width="1.15" />
<line x1="211.30" y1="523.00" x2="216.10" y2="523.00" stroke="#111" stroke-width="1.15" />
<line x1="211.30" y1="565.90" x2="216.10" y2="565.90" stroke="#111" stroke-width="1.15" />
<line x1="266.40" y1="616.00" x2="266.40" y2="626.20" stroke="#111" stroke-width="1.15" />
<line x1="264.00" y1="626.20" x2="268.80" y2="626.20" stroke="#111" stroke-width="1.15" />
<line x1="283.90" y1="560.30" x2="283.90" y2="594.00" stroke="#111" stroke-width="1.15" />
<line x1="281.50" y1="560.30" x2="286.30" y2="560.30" stroke="#111" stroke-width="1.15" />
<line x1="281.50" y1="594.00" x2="286.30" y2="594.00" stroke="#111" stroke-width="1.15" />
<line x1="117.30" y1="606.50" x2="117.30" y2="613.60" stroke="#111" stroke-width="1.15" />
<line x1="114.90" y1="606.50" x2="119.70" y2="606.50" stroke="#111" stroke-width="1.15" />
<line x1="126.60" y1="573.00" x2="126.60" y2="584.20" stroke="#111" stroke-width="1.15" />
<line x1="124.20" y1="573.00" x2="129.00" y2="573.00" stroke="#111" stroke-width="1.15" />
<line x1="135.80" y1="531.50" x2="135.80" y2="565.70" stroke="#111" stroke-width="1.15" />
<line x1="133.40" y1="531.50" x2="138.20" y2="531.50" stroke="#111" stroke-width="1.15" />
<line x1="133.40" y1="565.70" x2="138.20" y2="565.70" stroke="#111" stroke-width="1.15" />
<line x1="143.80" y1="507.30" x2="143.80" y2="546.30" stroke="#111" stroke-width="1.15" />
<line x1="141.40" y1="507.30" x2="146.20" y2="507.30" stroke="#111" stroke-width="1.15" />
<line x1="141.40" y1="546.30" x2="146.20" y2="546.30" stroke="#111" stroke-width="1.15" />
<line x1="151.90" y1="424.90" x2="151.90" y2="483.50" stroke="#111" stroke-width="1.15" />
<line x1="149.50" y1="424.90" x2="154.30" y2="424.90" stroke="#111" stroke-width="1.15" />
<line x1="149.50" y1="483.50" x2="154.30" y2="483.50" stroke="#111" stroke-width="1.15" />
<line x1="161.20" y1="415.50" x2="161.20" y2="470.60" stroke="#111" stroke-width="1.15" />
<line x1="158.80" y1="415.50" x2="163.60" y2="415.50" stroke="#111" stroke-width="1.15" />
<line x1="158.80" y1="470.60" x2="163.60" y2="470.60" stroke="#111" stroke-width="1.15" />
<line x1="170.40" y1="412.70" x2="170.40" y2="467.00" stroke="#111" stroke-width="1.15" />
<line x1="168.00" y1="412.70" x2="172.80" y2="412.70" stroke="#111" stroke-width="1.15" />
<line x1="168.00" y1="467.00" x2="172.80" y2="467.00" stroke="#111" stroke-width="1.15" />
<line x1="187.10" y1="418.50" x2="187.10" y2="473.10" stroke="#111" stroke-width="1.15" />
<line x1="184.70" y1="418.50" x2="189.50" y2="418.50" stroke="#111" stroke-width="1.15" />
<line x1="184.70" y1="473.10" x2="189.50" y2="473.10" stroke="#111" stroke-width="1.15" />
<line x1="213.70" y1="458.70" x2="213.70" y2="523.90" stroke="#111" stroke-width="1.15" />
<line x1="211.30" y1="458.70" x2="216.10" y2="458.70" stroke="#111" stroke-width="1.15" />
<line x1="211.30" y1="523.90" x2="216.10" y2="523.90" stroke="#111" stroke-width="1.15" />
<line x1="240.80" y1="568.40" x2="240.80" y2="588.60" stroke="#111" stroke-width="1.15" />
<line x1="238.40" y1="568.40" x2="243.20" y2="568.40" stroke="#111" stroke-width="1.15" />
<line x1="266.40" y1="603.20" x2="266.40" y2="608.80" stroke="#111" stroke-width="1.15" />
<line x1="264.00" y1="603.20" x2="268.80" y2="603.20" stroke="#111" stroke-width="1.15" />
<line x1="283.90" y1="605.80" x2="283.90" y2="610.60" stroke="#111" stroke-width="1.15" />
<line x1="281.50" y1="605.80" x2="286.30" y2="605.80" stroke="#111" stroke-width="1.15" />
<line x1="126.60" y1="592.00" x2="126.60" y2="601.50" stroke="#111" stroke-width="1.15" />
<line x1="124.20" y1="601.50" x2="129.00" y2="601.50" stroke="#111" stroke-width="1.15" />
<line x1="135.80" y1="546.20" x2="135.80" y2="561.50" stroke="#111" stroke-width="1.15" />
<line x1="133.40" y1="561.50" x2="138.20" y2="561.50" stroke="#111" stroke-width="1.15" />
<line x1="143.80" y1="469.90" x2="143.80" y2="499.20" stroke="#111" stroke-width="1.15" />
<line x1="141.40" y1="469.90" x2="146.20" y2="469.90" stroke="#111" stroke-width="1.15" />
<line x1="141.40" y1="499.20" x2="146.20" y2="499.20" stroke="#111" stroke-width="1.15" />
<line x1="152.40" y1="451.00" x2="152.40" y2="481.90" stroke="#111" stroke-width="1.15" />
<line x1="150.00" y1="451.00" x2="154.80" y2="451.00" stroke="#111" stroke-width="1.15" />
<line x1="150.00" y1="481.90" x2="154.80" y2="481.90" stroke="#111" stroke-width="1.15" />
<line x1="161.20" y1="430.00" x2="161.20" y2="469.00" stroke="#111" stroke-width="1.15" />
<line x1="158.80" y1="430.00" x2="163.60" y2="430.00" stroke="#111" stroke-width="1.15" />
<line x1="158.80" y1="469.00" x2="163.60" y2="469.00" stroke="#111" stroke-width="1.15" />
<line x1="170.40" y1="414.30" x2="170.40" y2="453.80" stroke="#111" stroke-width="1.15" />
<line x1="168.00" y1="414.30" x2="172.80" y2="414.30" stroke="#111" stroke-width="1.15" />
<line x1="168.00" y1="453.80" x2="172.80" y2="453.80" stroke="#111" stroke-width="1.15" />
<line x1="187.10" y1="426.50" x2="187.10" y2="470.80" stroke="#111" stroke-width="1.15" />
<line x1="184.70" y1="426.50" x2="189.50" y2="426.50" stroke="#111" stroke-width="1.15" />
<line x1="184.70" y1="470.80" x2="189.50" y2="470.80" stroke="#111" stroke-width="1.15" />
<line x1="213.70" y1="484.70" x2="213.70" y2="513.50" stroke="#111" stroke-width="1.15" />
<line x1="211.30" y1="484.70" x2="216.10" y2="484.70" stroke="#111" stroke-width="1.15" />
<line x1="211.30" y1="513.50" x2="216.10" y2="513.50" stroke="#111" stroke-width="1.15" />
<line x1="240.80" y1="611.50" x2="240.80" y2="621.90" stroke="#111" stroke-width="1.15" />
<line x1="238.40" y1="611.50" x2="243.20" y2="611.50" stroke="#111" stroke-width="1.15" />
<line x1="238.40" y1="621.90" x2="243.20" y2="621.90" stroke="#111" stroke-width="1.15" />
<line x1="283.90" y1="616.00" x2="283.90" y2="620.20" stroke="#111" stroke-width="1.15" />
<line x1="281.50" y1="616.00" x2="286.30" y2="616.00" stroke="#111" stroke-width="1.15" />
<line x1="133.60" y1="534.20" x2="138.00" y2="534.20" stroke="#111" stroke-width="1.00" />
<line x1="133.80" y1="537.40" x2="137.80" y2="537.40" stroke="#111" stroke-width="1.00" />
<polyline fill="none" stroke="#111" stroke-width="1.00" stroke-linejoin="round" points="82.3,610.2 91.6,636.2 100.9,633.8 109.2,635.3 117.3,624.6 126.7,610.8 135.8,590.4 144.2,587.4 152.4,572.0 161.2,575.8 171.0,588.0 187.4,564.5 213.7,544.6 240.8,600.0 266.4,616.0 283.9,577.0"/>
<polyline fill="none" stroke="#111" stroke-width="1.90" stroke-linejoin="round" points="82.3,618.8 91.6,631.0 101.2,634.3 108.5,633.8 117.3,613.6 126.6,584.2 135.8,551.4 143.8,526.5 151.9,453.1"/>
<polyline fill="none" stroke="#111" stroke-width="1.45" stroke-linejoin="round" points="151.9,453.1 161.2,442.7 170.4,441.1 187.1,446.0 213.7,491.3 240.8,588.6 266.4,608.8 283.9,610.6"/>
<polyline fill="none" stroke="#111" stroke-width="1.15" stroke-linejoin="round" points="82.1,625.2 91.6,641.2 100.9,633.6 109.2,635.0 117.5,620.0 126.6,592.0 135.8,546.2 143.8,484.2 152.4,466.9 161.2,449.6 170.4,434.2 187.1,447.6 213.7,499.3 240.8,617.3 266.4,616.0 283.9,620.2"/>
<circle cx="82.1" cy="625.2" r="3.00" fill="#fff" stroke="#111" stroke-width="1.20"/>
<circle cx="91.6" cy="641.2" r="3.00" fill="#fff" stroke="#111" stroke-width="1.20"/>
<circle cx="100.9" cy="633.6" r="3.00" fill="#fff" stroke="#111" stroke-width="1.20"/>
<circle cx="109.2" cy="635.0" r="3.00" fill="#fff" stroke="#111" stroke-width="1.20"/>
<circle cx="117.5" cy="620.0" r="3.00" fill="#fff" stroke="#111" stroke-width="1.20"/>
<circle cx="126.6" cy="592.0" r="3.00" fill="#fff" stroke="#111" stroke-width="1.20"/>
<circle cx="135.8" cy="546.2" r="3.00" fill="#fff" stroke="#111" stroke-width="1.20"/>
<circle cx="143.8" cy="484.2" r="3.00" fill="#fff" stroke="#111" stroke-width="1.20"/>
<circle cx="152.4" cy="466.9" r="3.00" fill="#fff" stroke="#111" stroke-width="1.20"/>
<circle cx="161.2" cy="449.6" r="3.00" fill="#fff" stroke="#111" stroke-width="1.20"/>
<circle cx="170.4" cy="434.2" r="3.00" fill="#fff" stroke="#111" stroke-width="1.20"/>
<circle cx="187.1" cy="447.6" r="3.00" fill="#fff" stroke="#111" stroke-width="1.20"/>
<circle cx="213.7" cy="499.3" r="3.00" fill="#fff" stroke="#111" stroke-width="1.20"/>
<circle cx="240.8" cy="617.3" r="3.00" fill="#fff" stroke="#111" stroke-width="1.20"/>
<circle cx="266.4" cy="616.0" r="3.00" fill="#fff" stroke="#111" stroke-width="1.20"/>
<circle cx="283.9" cy="620.2" r="3.00" fill="#fff" stroke="#111" stroke-width="1.20"/>
<circle cx="82.3" cy="618.8" r="3.55" fill="#111"/>
<circle cx="91.6" cy="631.0" r="3.55" fill="#111"/>
<circle cx="101.2" cy="634.3" r="4.00" fill="#111"/>
<circle cx="108.5" cy="633.8" r="3.55" fill="#111"/>
<circle cx="117.3" cy="613.6" r="3.55" fill="#111"/>
<circle cx="126.6" cy="584.2" r="3.55" fill="#111"/>
<circle cx="135.8" cy="551.4" r="3.55" fill="#111"/>
<circle cx="143.8" cy="526.5" r="3.55" fill="#111"/>
<circle cx="151.9" cy="453.1" r="3.55" fill="#111"/>
<circle cx="161.2" cy="442.7" r="3.55" fill="#111"/>
<circle cx="170.4" cy="441.1" r="3.55" fill="#111"/>
<circle cx="187.1" cy="446.0" r="3.55" fill="#111"/>
<circle cx="213.7" cy="491.3" r="3.55" fill="#111"/>
<circle cx="240.8" cy="588.6" r="3.55" fill="#111"/>
<circle cx="266.4" cy="608.8" r="3.55" fill="#111"/>
<circle cx="283.9" cy="610.6" r="3.55" fill="#111"/>
<rect x="79.4" y="607.3" width="5.8" height="5.8" fill="#fff" stroke="#111" stroke-width="1.05"/>
<rect x="88.7" y="633.3" width="5.8" height="5.8" fill="#fff" stroke="#111" stroke-width="1.05"/>
<rect x="98.4" y="631.3" width="5.0" height="5.0" fill="#fff" stroke="#111" stroke-width="1.05"/>
<rect x="106.3" y="632.4" width="5.8" height="5.8" fill="#fff" stroke="#111" stroke-width="1.05"/>
<rect x="114.4" y="621.7" width="5.8" height="5.8" fill="#fff" stroke="#111" stroke-width="1.05"/>
<rect x="123.8" y="607.9" width="5.8" height="5.8" fill="#fff" stroke="#111" stroke-width="1.05"/>
<rect x="132.9" y="587.5" width="5.8" height="5.8" fill="#fff" stroke="#111" stroke-width="1.05"/>
<rect x="141.3" y="584.5" width="5.8" height="5.8" fill="#fff" stroke="#111" stroke-width="1.05"/>
<rect x="149.5" y="569.1" width="5.8" height="5.8" fill="#fff" stroke="#111" stroke-width="1.05"/>
<rect x="158.3" y="572.9" width="5.8" height="5.8" fill="#fff" stroke="#111" stroke-width="1.05"/>
<rect x="168.1" y="585.1" width="5.8" height="5.8" fill="#fff" stroke="#111" stroke-width="1.05"/>
<rect x="184.5" y="561.6" width="5.8" height="5.8" fill="#fff" stroke="#111" stroke-width="1.05"/>
<rect x="210.8" y="541.7" width="5.8" height="5.8" fill="#fff" stroke="#111" stroke-width="1.05"/>
<rect x="237.9" y="597.1" width="5.8" height="5.8" fill="#fff" stroke="#111" stroke-width="1.05"/>
<rect x="263.5" y="613.1" width="5.8" height="5.8" fill="#fff" stroke="#111" stroke-width="1.05"/>
<rect x="281.0" y="574.1" width="5.8" height="5.8" fill="#fff" stroke="#111" stroke-width="1.05"/>
<g transform="translate(0,0.67) skewY(-0.32)">
<rect x="78.8" y="377.6" width="82.9" height="34.8" fill="#fff" stroke="#111" stroke-width="1.3"/>
<text x="87.00" y="393.80" font-size="9.40" class="b" text-anchor="start" letter-spacing="0.40" >SC</text>
<text x="107.00" y="393.80" font-size="9.40" class="b" text-anchor="start" letter-spacing="0.45" >rHuEPO</text>
<text x="87.00" y="405.90" font-size="9.40" class="b" text-anchor="start" letter-spacing="0.75" >1,200</text>
<text x="128.00" y="405.90" font-size="9.40" class="b" text-anchor="start" letter-spacing="0.70" >U/Kg</text>
</g>
<g transform="translate(0,3.41) skewY(-0.45)">
<rect x="363.8" y="404.0" width="140.8" height="51.0" fill="#fff" stroke="#111" stroke-width="1.3"/>
<line x1="367.70" y1="414.00" x2="409.20" y2="414.00" stroke="#111" stroke-width="1.30" />
<text x="422.40" y="417.90" font-size="9.10" class="b" text-anchor="start" letter-spacing="0.20" >300 U/kg x 4</text>
<line x1="367.70" y1="429.00" x2="409.20" y2="429.00" stroke="#111" stroke-width="1.30" />
<text x="422.40" y="432.90" font-size="9.10" class="b" text-anchor="start" letter-spacing="0.20" >400 U/kg x 3</text>
<line x1="367.70" y1="443.30" x2="409.20" y2="443.30" stroke="#111" stroke-width="1.00" />
<text x="422.40" y="447.20" font-size="9.10" class="b" text-anchor="start" letter-spacing="0.20" >600 U/kg x 2</text>
<circle cx="390.0" cy="414.0" r="3.10" fill="#fff" stroke="#111" stroke-width="1.20"/>
<circle cx="390.0" cy="429.0" r="3.70" fill="#111"/>
<rect x="387.0" y="440.3" width="6.0" height="6.0" fill="#fff" stroke="#111" stroke-width="1.05"/>
</g>
<text x="260.60" y="687.70" font-size="12.20" class="b" text-anchor="start" letter-spacing="1.00" >Day</text>
<text transform="translate(13.60,650.00) rotate(-90)" font-size="11.60" class="b" >%</text>
<text transform="translate(13.60,631.00) rotate(-90)" font-size="11.60" class="b" letter-spacing="0.70">of</text>
<text transform="translate(13.60,608.20) rotate(-90)" font-size="11.60" class="b" letter-spacing="0.95">reticulocytes</text>
<text transform="translate(13.60,514.20) rotate(-90)" font-size="11.60" class="b" letter-spacing="0.70">with</text>
<text transform="translate(13.60,478.40) rotate(-90)" font-size="11.60" class="b" letter-spacing="0.80">CHr</text>
<text transform="translate(13.60,446.40) rotate(-90)" font-size="11.60" class="b" >&lt;</text>
<text transform="translate(13.60,428.60) rotate(-90)" font-size="11.60" class="b" letter-spacing="0.80">23</text>
<text transform="translate(13.60,404.80) rotate(-90)" font-size="11.60" class="b" letter-spacing="0.80">pg</text>
</svg></body></html>
